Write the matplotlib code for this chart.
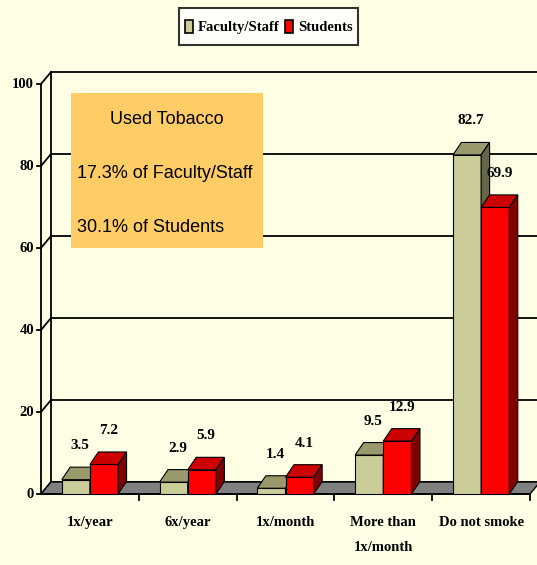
import matplotlib
matplotlib.use("Agg")
import matplotlib.pyplot as plt
from matplotlib.patches import Polygon, Rectangle, Patch
from matplotlib.legend_handler import HandlerPatch
from matplotlib import font_manager
import numpy as np

categories = ['1x/year', '6x/year', '1x/month', 'More than\n1x/month', 'Do not smoke']
faculty = [3.5, 2.9, 1.4, 9.5, 82.7]
students = [7.2, 5.9, 4.1, 12.9, 69.9]
yticks = [0, 20, 40, 60, 80, 100]
box_lines = ['Used Tobacco', '17.3% of Faculty/Staff', '30.1% of Students']

W, H = 537, 565
bg = '#FFFFE6'
fac_cols = ('#CCCC99', '#99996B', '#66664A')
stu_cols = ('#FF0000', '#CC0000', '#800000')

# pixel geometry of the plot
x0px, catpx = 41, 97.8
y0px, vpx = 494, 4.1

fig = plt.figure(figsize=(W / 100, H / 100), dpi=100, facecolor=bg)
ax = fig.add_axes([0, 0, 1, 1])
ax.set_facecolor(bg)
ax.set_xlim(-x0px / catpx, (W - x0px) / catpx)
ax.set_ylim(-(H - y0px) / vpx, y0px / vpx)
ax.axis('off')

# depth offsets in data units
wdx, wdy = 10 / catpx, 12 / vpx
bdx, bdy = 8.5 / catpx, 12.5 / vpx
n = len(categories)
xr = ax.get_xlim()[1]

# back wall + gridlines
for v in yticks:
    ax.plot([wdx, xr], [v + wdy, v + wdy], color='black', lw=1.3, zorder=1)
    ax.plot([0, wdx], [v, v + wdy], color='black', lw=1.3, zorder=1)
    ax.plot([-4 / catpx, 0], [v, v], color='black', lw=1.3, zorder=1)
    ax.text(-7 / catpx, v, str(v), ha='right', va='center', fontsize=10.5,
            fontweight='bold', family='Liberation Serif')
ax.plot([wdx, wdx], [wdy, 100 + wdy], color='black', lw=1.3, zorder=1)
ax.plot([0, 0], [0, 100], color='black', lw=1.3, zorder=1)

# floor
ax.add_patch(Polygon([(0, 0), (n, 0), (n + wdx, wdy), (wdx, wdy)], closed=True,
                     facecolor='#808080', edgecolor='black', lw=1.0, zorder=2))
ax.plot([0, n], [0, 0], color='black', lw=1.3, zorder=2)
for i in range(1, n + 1):
    ax.plot([i, i], [0, -6 / vpx], color='black', lw=1.3, zorder=2)

# bars
bw = 0.288
centers = np.arange(n) + 0.5


def draw_bars(xs, vals, cols):
    ax.bar(xs, vals, width=bw, color=cols[0], edgecolor='black', lw=0.8, zorder=3)
    for x, h in zip(xs, vals):
        l, r = x - bw / 2, x + bw / 2
        ax.add_patch(Polygon([(l, h), (r, h), (r + bdx, h + bdy), (l + bdx, h + bdy)],
                             closed=True, facecolor=cols[1], edgecolor='black', lw=0.8, zorder=3))
        ax.add_patch(Polygon([(r, 0), (r + bdx, bdy), (r + bdx, h + bdy), (r, h)],
                             closed=True, facecolor=cols[2], edgecolor='black', lw=0.8, zorder=3))
        ax.text(x + bdx / 2, h + 34 / vpx, f'{h:.1f}', ha='center', va='center',
                fontsize=11, fontweight='bold', family='Liberation Serif', zorder=5)


draw_bars(centers - bw / 2, faculty, fac_cols)
draw_bars(centers + bw / 2, students, stu_cols)

for c, lab in zip(centers, categories):
    ax.text(c, -22 / vpx, lab, ha='center', va='top', fontsize=10.5, fontweight='bold',
            family='Liberation Serif', linespacing=2.2)

# info box
names = {f.name for f in font_manager.fontManager.ttflist}
if 'Liberation Sans Narrow' in names:
    bfam, bsize = 'Liberation Sans Narrow', 15
else:
    bfam, bsize = 'Liberation Sans', 13
ax.add_patch(Rectangle((71 / W, 1 - 248 / H), 192 / W, 155 / H, transform=ax.transAxes,
                       facecolor='#FFCC66', edgecolor='none', zorder=4))
ax.text(167 / W, 1 - 120 / H, box_lines[0], transform=ax.transAxes, ha='center',
        va='center', fontsize=bsize, family=bfam, zorder=5)
ax.text(77 / W, 1 - 173 / H, box_lines[1], transform=ax.transAxes, ha='left',
        va='center', fontsize=bsize, family=bfam, zorder=5)
ax.text(77 / W, 1 - 227 / H, box_lines[2], transform=ax.transAxes, ha='left',
        va='center', fontsize=bsize, family=bfam, zorder=5)


# legend: small tall swatches inside a tall legend row
def swatch(legend, orig_handle, xdescent, ydescent, width, height, fontsize):
    w, h = 0.55 * fontsize, 0.95 * fontsize
    return Rectangle((-xdescent + (width - w) / 2, -ydescent + (height - h) / 2), w, h)


handles = [Patch(facecolor=fac_cols[0], edgecolor='black', lw=1.2, label='Faculty/Staff'),
           Patch(facecolor=stu_cols[0], edgecolor='black', lw=1.2, label='Students')]
leg = ax.legend(handles=handles, loc='center', bbox_to_anchor=(268.5 / W, 1 - 26.5 / H),
                bbox_transform=fig.transFigure, ncol=2, frameon=True, fancybox=False,
                handlelength=0.6, handleheight=2.4, handletextpad=0.3, columnspacing=0.35,
                borderpad=0.36, borderaxespad=0,
                handler_map={Patch: HandlerPatch(patch_func=swatch)},
                prop={'family': 'Liberation Serif', 'weight': 'bold', 'size': 10.5})
leg.get_frame().set_edgecolor('black')
leg.get_frame().set_linewidth(1.5)
leg.get_frame().set_facecolor('white')

fig.savefig('out.png', dpi=100, facecolor=bg)
